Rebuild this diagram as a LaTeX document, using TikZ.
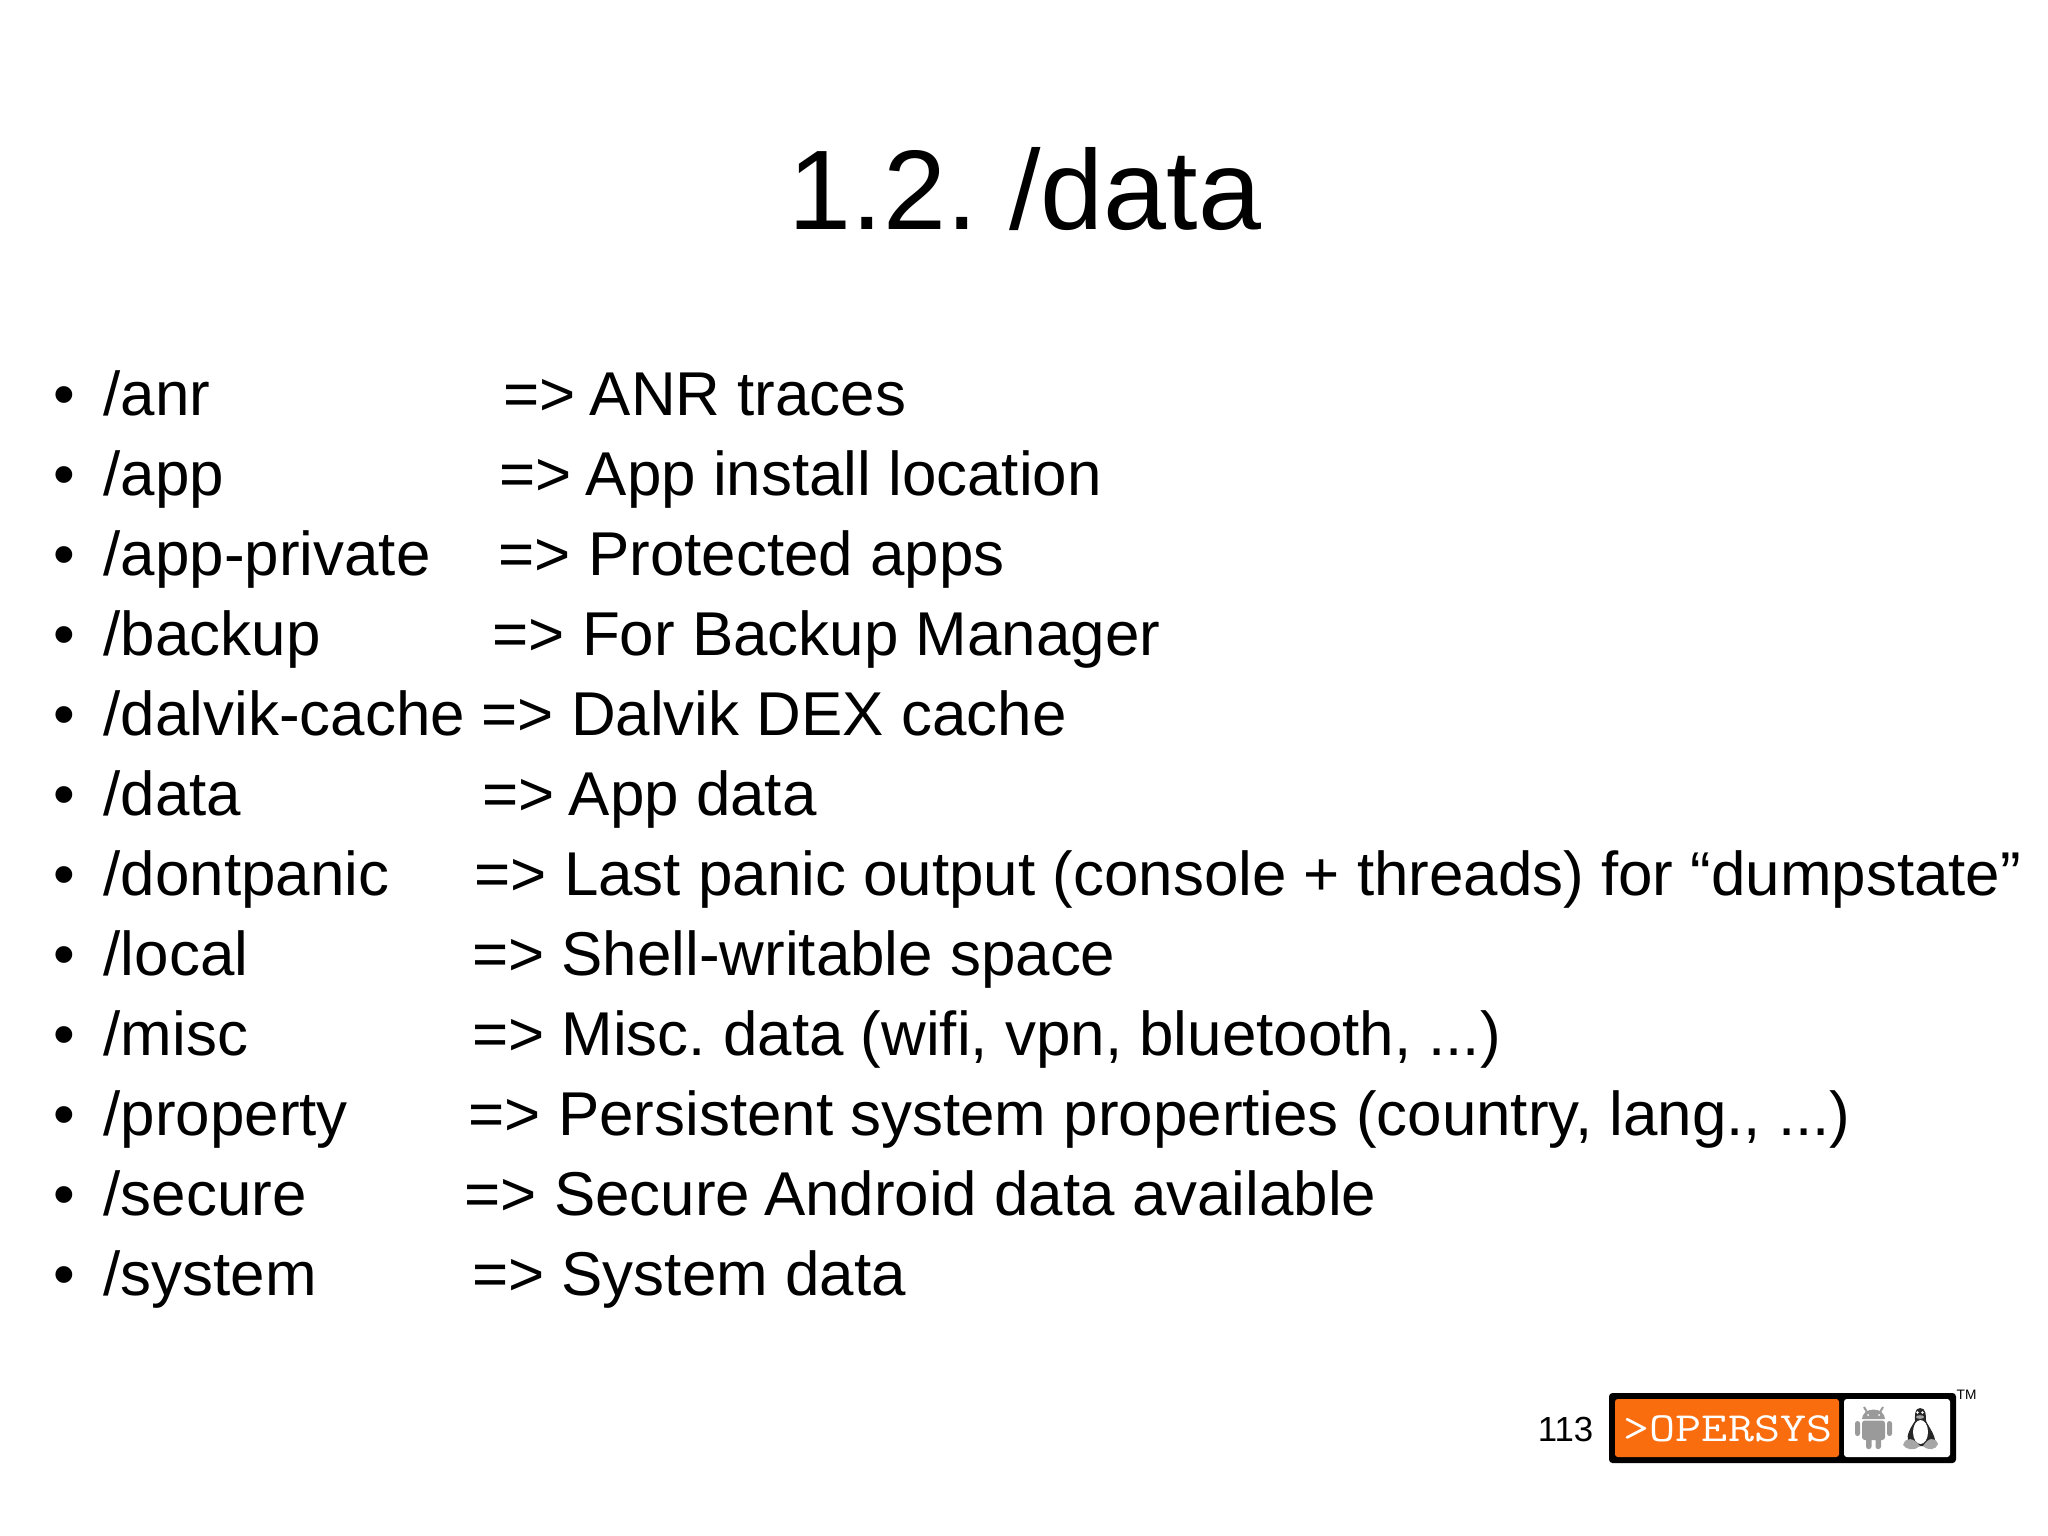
\documentclass[tikz,border=0pt]{standalone}
\usepackage{fontspec}
\setmainfont{Liberation Sans}
\usepackage{xcolor}
\definecolor{opersys}{HTML}{F96D0F}
\definecolor{robot}{HTML}{9A9A9A}
\newcommand{\spaceA}{\kern-0.055em A}

\begin{document}
\frenchspacing
\begin{tikzpicture}[x=0.01cm, y=-0.01cm,
    rowtext/.style={anchor=base west, inner sep=0pt, font=\fontsize{17.6}{21}\selectfont},
    bulletmark/.style={anchor=base, inner sep=0pt, font=\fontsize{17.6}{21}\selectfont}
  ]
  \useasboundingbox (0,0) rectangle (2048,1536);
  \node (title) [anchor=base, inner sep=0pt, font=\fontsize{32.2}{38}\selectfont]
    at (1025,229) {1.2. /data};

  \foreach \row/\dir/\arrowx/\info in {
    0/anr/503/\spaceA NR traces,
    1/app/499/\spaceA pp install location,
    2/app-private/498/Protected apps,
    3/backup/492/For Backup Manager,
    4/dalvik-cache/481/Dalvik DEX cache,
    5/data/482/\spaceA pp data,
    6/dontpanic/474/Last panic output (console + threads) for “dumpstate”,
    7/local/471.5/Shell-writable space,
    8/misc/471.5/{Misc. data (wifi, vpn, bluetooth, ...)},
    9/property/468/{Persistent system properties (country, lang., ...)},
    10/secure/464/Secure \spaceA ndroid data available,
    11/system/471.5/System data%
  }{
    \node (bullet\row) [bulletmark] at (64,415.5+80*\row) {•};
    \node (dir\row) [rowtext] at (103,415.5+80*\row) {/\dir};
    \node (info\row) [rowtext] at (\arrowx,415.5+80*\row) {=> \info};
  }

  \node (page) [anchor=base east, inner sep=0pt, font=\fontsize{9.9}{12}\selectfont]
    at (1594,1441) {113};

  \fill[black, rounded corners=1pt] (1609,1393) rectangle (1956,1463);
  \fill[opersys, rounded corners=0.8pt] (1615,1399) rectangle (1839,1457);
  \fill[white, rounded corners=0.8pt] (1844,1399) rectangle (1950,1457);
  \node (brand) [anchor=base, inner sep=0pt, text=white, xscale=1.22,
    font=\fontsize{11.8}{14}\ttfamily\addfontfeature{FakeBold=0.8}]
    at (1728,1441) {>OPERSYS};
  \node (tm) [anchor=base west, inner sep=0pt, font=\fontsize{3.9}{5}\selectfont]
    at (1956,1399) {TM};

  \fill[robot] (1862,1419) arc [start angle=180, end angle=360, x radius=11.5, y radius=9.5] -- cycle;
  \draw[robot, line width=0.2mm] (1867,1412) -- (1864,1407) (1880,1412) -- (1883,1407);
  \fill[robot, rounded corners=0.8pt] (1862,1420.5) rectangle (1885,1440);
  \fill[robot, rounded corners=0.7pt] (1855,1421) rectangle (1860,1436);
  \fill[robot, rounded corners=0.7pt] (1887,1421) rectangle (1892,1436);
  \fill[robot, rounded corners=0.7pt] (1866,1436) rectangle (1871.5,1449);
  \fill[robot, rounded corners=0.7pt] (1875.5,1436) rectangle (1881,1449);
  \fill[white] (1868,1415) circle [radius=1] (1879,1415) circle [radius=1];

  \fill[black!85] (1920,1408) .. controls (1914,1408) and (1915,1417) .. (1915,1421)
    .. controls (1911,1427) and (1906,1435) .. (1908,1441)
    -- (1914,1446) -- (1929,1446) -- (1935,1441)
    .. controls (1935,1435) and (1929,1427) .. (1926,1421)
    .. controls (1926,1415) and (1926,1408) .. (1920,1408) -- cycle;
  \fill[white] (1920.5,1432) ellipse [x radius=7.5, y radius=12];
  \fill[white] (1917.5,1412.5) circle [radius=1.3] (1922.5,1412.5) circle [radius=1.3];
  \fill[black!35] (1920,1417) ellipse [x radius=4, y radius=1.8];
  \fill[black!35] (1903,1445) .. controls (1906,1436) and (1914,1438) .. (1920,1446)
    .. controls (1915,1451) and (1906,1450) .. (1903,1445) -- cycle;
  \fill[black!35] (1938,1444) .. controls (1935,1436) and (1928,1438) .. (1923,1446)
    .. controls (1928,1451) and (1936,1450) .. (1938,1444) -- cycle;
\end{tikzpicture}
\end{document}
